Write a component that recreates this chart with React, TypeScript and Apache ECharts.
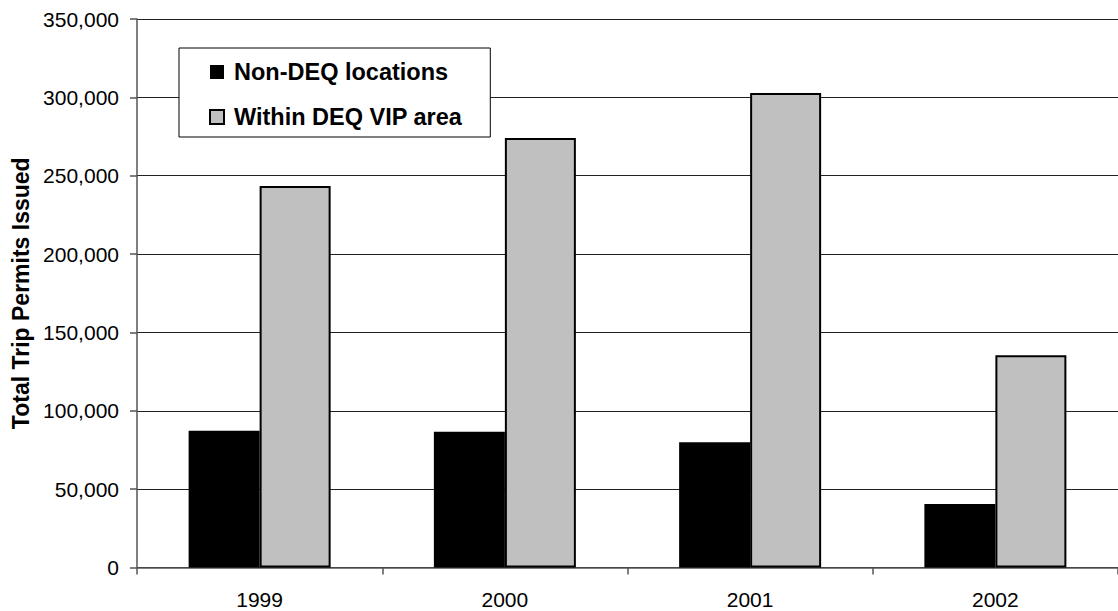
import React, { useEffect, useRef } from "react";
import * as echarts from "echarts";

const years = ["1999", "2000", "2001", "2002"];
const nonDeq = [87300, 86700, 79900, 40500];
const withinDeq = [243500, 274000, 302800, 135500];
const seriesNames = ["Non-DEQ locations", "Within DEQ VIP area"];
const yTitle = "Total Trip Permits Issued";

export default function App() {
  const ref = useRef<HTMLDivElement>(null);
  useEffect(() => {
    if (!ref.current) return;
    const chart = echarts.init(ref.current, null, { renderer: "svg" });
    const font = "'Liberation Sans', Arial, sans-serif";
    chart.setOption({
      animation: false,
      backgroundColor: "#ffffff",
      grid: { left: 137, right: -10, top: 19, bottom: 43.5, containLabel: false },
      legend: {
        orient: "vertical",
        left: 179,
        top: 48,
        padding: [12, 28, 8, 30],
        itemWidth: 14,
        itemHeight: 14,
        itemGap: 21,
        backgroundColor: "#ffffff",
        borderColor: "#000000",
        borderWidth: 1,
        borderRadius: 0,
        icon: "rect",
        textStyle: {
          fontFamily: font,
          fontSize: 23.5,
          fontWeight: "bold",
          color: "#000",
          lineHeight: 24,
          padding: [0, 0, 0, 5],
        },
        data: seriesNames,
      },
      xAxis: {
        type: "category",
        data: years,
        boundaryGap: true,
        axisLine: { show: true, lineStyle: { color: "#555", width: 1.5 } },
        axisTick: { show: true, alignWithLabel: false, length: 7, lineStyle: { color: "#555", width: 1.5 } },
        axisLabel: { fontFamily: font, fontSize: 21, color: "#000", margin: 21 },
        splitLine: { show: false },
      },
      yAxis: {
        type: "value",
        min: 0,
        max: 350000,
        interval: 50000,
        name: yTitle,
        nameLocation: "middle",
        nameRotate: 90,
        nameGap: 105,
        nameTextStyle: { fontFamily: font, fontSize: 23, fontWeight: "bold", color: "#000" },
        axisLine: { show: true, lineStyle: { color: "#555", width: 1.5 } },
        axisTick: { show: true, length: 7, lineStyle: { color: "#555", width: 1.5 } },
        axisLabel: {
          fontFamily: font,
          fontSize: 21,
          color: "#000",
          margin: 18,
          formatter: (v: number) => v.toLocaleString("en-US"),
        },
        splitLine: { show: true, lineStyle: { color: "#222", width: 1 } },
      },
      series: [
        {
          name: seriesNames[0],
          type: "bar",
          data: nonDeq,
          barWidth: 71,
          barGap: "0%",
          itemStyle: { color: "#000000", borderWidth: 0 },
        },
        {
          name: seriesNames[1],
          type: "bar",
          data: withinDeq,
          barWidth: 71,
          barGap: "0%",
          itemStyle: { color: "#c0c0c0", borderColor: "#000000", borderWidth: 2 },
        },
      ],
    });
    return () => chart.dispose();
  }, []);
  return (
    <div
      ref={ref}
      style={{ position: "fixed", left: 0, top: 0, width: 1118, height: 611, background: "#fff" }}
    />
  );
}
